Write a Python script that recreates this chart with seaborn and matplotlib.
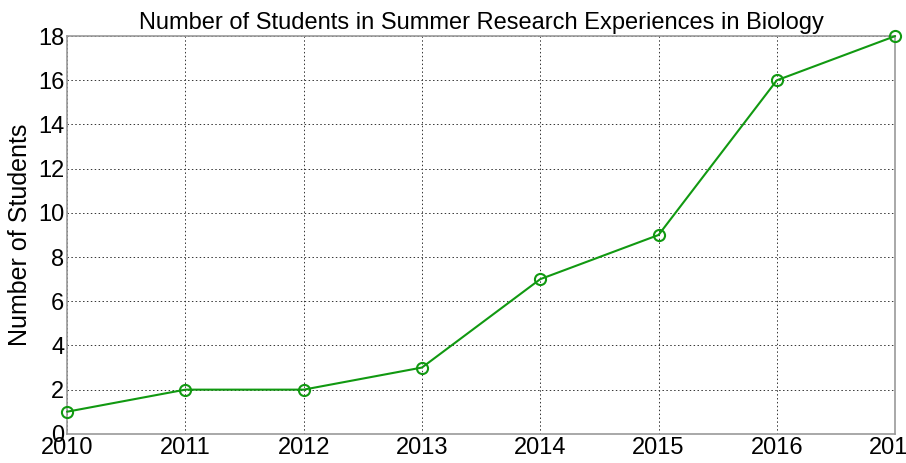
import pandas as pd
import seaborn as sns
import matplotlib.pyplot as plt

years = [2010, 2011, 2012, 2013, 2014, 2015, 2016, 2017]
students = [1, 2, 2, 3, 7, 9, 16, 18]
y_ticks = [0, 2, 4, 6, 8, 10, 12, 14, 16, 18]

df = pd.DataFrame({'Year': years, 'Students': students})

sns.set_style('white')
plt.rcParams['font.family'] = ['Liberation Sans', 'DejaVu Sans']

fig = plt.figure(figsize=(9.06, 4.63), dpi=100)
ax = fig.add_axes([0.074, 0.063, 0.914, 0.859])

sns.lineplot(x='Year', y='Students', data=df, ax=ax, color='#119911',
             marker='o', markersize=8, markerfacecolor='none',
             markeredgecolor='#119911', markeredgewidth=1.5, linewidth=1.5)
for ln in ax.lines:
    ln.set_clip_on(False)
    ln.set_zorder(5)

ax.set_xlim(2010, 2017)
ax.set_ylim(0, 18)
ax.set_xticks(years)
ax.set_xticklabels([str(y) for y in years])
ax.set_yticks(y_ticks)

ax.grid(True, color='#333333', linestyle=(0, (1.5, 2.5)), linewidth=0.7)
ax.tick_params(direction='in', length=5, labelsize=17, colors='#000000',
               top=False, right=False, pad=2)
for lab in ax.get_xticklabels() + ax.get_yticklabels():
    lab.set_color('#000000')
for s in ax.spines.values():
    s.set_color('#999999')
    s.set_linewidth(1.2)

ax.set_title('Number of Students in Summer Research Experiences in Biology',
             fontsize=17, pad=5, color='#000000')
ax.set_xlabel('')
ax.set_ylabel('Number of Students', fontsize=18, labelpad=4, color='#000000')

fig.savefig('out.png', dpi=100)
